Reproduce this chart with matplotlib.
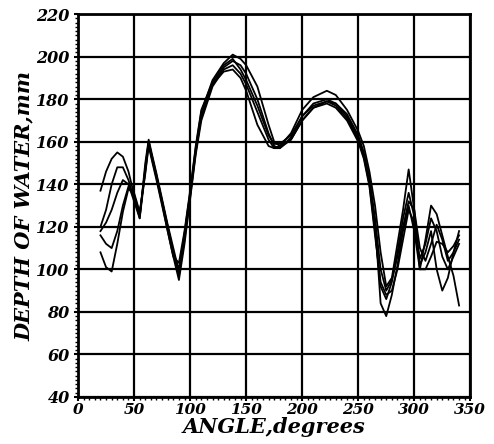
import matplotlib
matplotlib.use('Agg')
import matplotlib.pyplot as plt
from matplotlib.ticker import MultipleLocator

angles = [20, 25, 30, 35, 40, 45, 50, 55, 60, 63, 66, 70, 75, 80, 85, 90,
          95, 100, 105, 110, 120, 130, 138, 145, 150, 160, 170, 175, 180, 190,
          200, 210, 222, 230, 240, 250, 255, 260, 265, 270, 275, 280, 285,
          290, 295, 300, 305, 310, 315, 320, 325, 330, 335, 340]

# Depth of water (mm), one list per traced run
run1 = [137, 146, 152, 155, 153, 146, 135, 124, 150, 161, 154, 145, 133, 121, 110, 99,
        117, 136, 157, 174, 189, 197, 201, 199, 196, 186, 168, 160, 158, 164,
        175, 181, 184, 182, 175, 165, 158, 146, 130, 108, 92, 96, 112,
        128, 147, 128, 100, 100, 106, 113, 112, 108, 111, 116]
run2 = [120, 128, 140, 148, 148, 142, 133, 125, 148, 160, 153, 144, 132, 120, 108, 97,
        114, 134, 155, 172, 187, 195, 198, 196, 192, 180, 164, 158, 157, 162,
        172, 178, 180, 178, 172, 162, 154, 142, 122, 84, 78, 88, 102,
        118, 130, 118, 100, 114, 130, 126, 116, 106, 97, 83]
run3 = [118, 122, 128, 136, 142, 140, 132, 124, 146, 159, 152, 143, 131, 118, 106, 95,
        112, 133, 154, 170, 186, 194, 196, 192, 187, 174, 161, 157, 157, 161,
        170, 176, 179, 177, 171, 161, 153, 140, 118, 92, 86, 94, 108,
        124, 136, 125, 102, 108, 118, 100, 90, 96, 108, 118]
run4 = [108, 101, 99, 112, 127, 138, 135, 126, 147, 160, 153, 144, 132, 120, 108, 100,
        116, 135, 156, 172, 187, 193, 194, 190, 184, 168, 158, 157, 158, 161,
        170, 176, 178, 176, 170, 160, 152, 139, 116, 94, 88, 90, 100,
        114, 128, 122, 105, 112, 124, 118, 106, 100, 106, 112]
run5 = [116, 112, 110, 118, 130, 139, 136, 127, 145, 158, 151, 142, 130, 118, 106, 103,
        118, 137, 158, 175, 188, 196, 199, 194, 189, 177, 163, 159, 159, 163,
        172, 177, 179, 178, 173, 163, 155, 143, 124, 100, 90, 95, 106,
        120, 132, 128, 110, 104, 112, 121, 114, 104, 108, 114]

xticks = [0, 50, 100, 150, 200, 250, 300, 350]
yticks = [40, 60, 80, 100, 120, 140, 160, 180, 200, 220]

font = {'family': 'DejaVu Serif', 'weight': 'bold', 'style': 'italic'}

fig = plt.figure(figsize=(4.94, 4.44), dpi=100)
ax = fig.add_axes([0.158, 0.106, 0.794, 0.862])

for run in [run1, run2, run3, run4, run5]:
    ax.plot(angles, run, color='black', linewidth=1.3)

ax.set_xlim(0, 350)
ax.set_ylim(40, 220)
ax.set_xticks(xticks)
ax.set_yticks(yticks)
ax.set_xticklabels([str(t) for t in xticks], fontdict=font, fontsize=11)
ax.set_yticklabels([str(t) for t in yticks], fontdict=font, fontsize=11.5)
ax.xaxis.set_minor_locator(MultipleLocator(5))
ax.yaxis.set_minor_locator(MultipleLocator(2))
ax.tick_params(which='major', length=3, width=1.5, direction='out', pad=1.5)
ax.tick_params(which='minor', length=2.5, width=1, direction='out')
ax.tick_params(axis='y', which='major', pad=3)
ax.grid(True, which='major', color='black', linewidth=1.6)

for s in ax.spines.values():
    s.set_linewidth(2)

ax.set_xlabel('ANGLE,degrees', fontdict=font, fontsize=15, labelpad=0)
ax.set_ylabel('DEPTH OF WATER,mm', fontdict=font, fontsize=15, labelpad=2)

fig.savefig('out.png', dpi=100)
